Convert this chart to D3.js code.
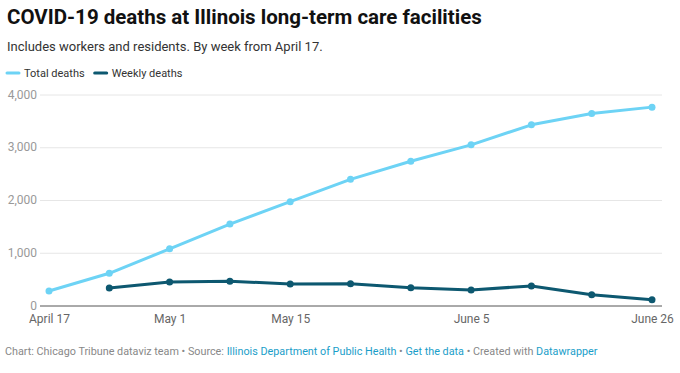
<!DOCTYPE html>
<html><head><meta charset="utf-8">
<script src="https://cdn.jsdelivr.net/npm/d3@7"></script>
<style>
body{margin:0;background:#fff;font-family:Roboto,sans-serif;}
</style></head>
<body>
<svg id="c" width="680" height="373"></svg>
<script>
const dates = ["2020-04-17","2020-04-24","2020-05-01","2020-05-08","2020-05-15","2020-05-22","2020-05-29","2020-06-05","2020-06-12","2020-06-19","2020-06-26"];
const totalDeaths = [285, 620, 1083, 1553, 1977, 2401, 2743, 3055, 3435, 3650, 3770];
const weeklyDeaths = [null, 342, 456, 469, 418, 424, 348, 304, 380, 215, 120];
const yTicks = [0, 1000, 2000, 3000, 4000];
const xTickDates = ["2020-04-17","2020-05-01","2020-05-15","2020-06-05","2020-06-26"];
const xTickLabels = ["April 17","May 1","May 15","June 5","June 26"];
const seriesNames = ["Total deaths","Weekly deaths"];
const colors = ["#6dd3f5","#0d5870"];

const parse = d3.timeParse("%Y-%m-%d");
const svg = d3.select("#c");

svg.append("text").attr("x",7).attr("y",24).attr("font-size",20.5).attr("font-weight",700).attr("fill","#111")
  .text("COVID-19 deaths at Illinois long-term care facilities");
svg.append("text").attr("x",7).attr("y",51).attr("font-size",13).attr("fill","#333")
  .text("Includes workers and residents. By week from April 17.");

// legend
let lx = 7;
seriesNames.forEach((n,i)=>{
  svg.append("line").attr("x1",lx).attr("x2",lx+12).attr("y1",73).attr("y2",73).attr("stroke",colors[i]).attr("stroke-width",3).attr("stroke-linecap","round");
  const t = svg.append("text").attr("x",lx+17).attr("y",77).attr("font-size",11).attr("fill","#333").text(n);
  lx += 17 + t.node().getComputedTextLength() + 10;
});

const x = d3.scaleTime().domain([parse(dates[0]), parse(dates[dates.length-1])]).range([49,652]);
const y = d3.scaleLinear().domain([0,4000]).range([306,95]);

// grid
const g = svg.append("g");
g.selectAll("line.grid").data(yTicks.filter(d=>d>0)).join("line")
  .attr("x1",40).attr("x2",662).attr("y1",d=>y(d)).attr("y2",d=>y(d)).attr("stroke","#e6e6e6").attr("stroke-width",1);
g.selectAll("text.yl").data(yTicks).join("text")
  .attr("x",37).attr("y",d=>y(d)-0.5).attr("dy","0.35em").attr("text-anchor","end")
  .attr("font-size",12).attr("fill","#999").text(d=>d3.format(",")(d));
// baseline
g.append("line").attr("x1",40).attr("x2",662).attr("y1",y(0)).attr("y2",y(0)).attr("stroke","#555").attr("stroke-width",1);

// x ticks
const xAxis = d3.axisBottom(x).tickValues(xTickDates.map(parse)).tickFormat((d,i)=>xTickLabels[i]).tickSize(0).tickPadding(8);
const ax = svg.append("g").attr("transform",`translate(0,${y(0)})`).call(xAxis);
ax.select(".domain").remove();
ax.selectAll("text").attr("font-size",12).attr("fill","#666").attr("font-family","Roboto,sans-serif");

const series = [totalDeaths, weeklyDeaths];
series.forEach((vals,i)=>{
  const pts = vals.map((v,j)=>({d:parse(dates[j]),v})).filter(p=>p.v!=null);
  svg.append("path").datum(pts).attr("fill","none").attr("stroke",colors[i]).attr("stroke-width",3)
    .attr("stroke-linejoin","round")
    .attr("d",d3.line().x(p=>x(p.d)).y(p=>y(p.v)));
  svg.append("g").selectAll("circle").data(pts).join("circle")
    .attr("cx",p=>x(p.d)).attr("cy",p=>y(p.v)).attr("r",3.5).attr("fill",colors[i]);
});

// footer
const f = svg.append("text").attr("x",5).attr("y",355).attr("font-size",10.8).attr("fill","#888");
const parts = [["Chart: Chicago Tribune dataviz team • Source: ","#888"],["Illinois Department of Public Health","#1a9ec9"],[" • ","#888"],["Get the data","#1a9ec9"],[" • Created with ","#888"],["Datawrapper","#1a9ec9"]];
parts.forEach(p=>f.append("tspan").attr("fill",p[1]).text(p[0]));
</script>
</body></html>
